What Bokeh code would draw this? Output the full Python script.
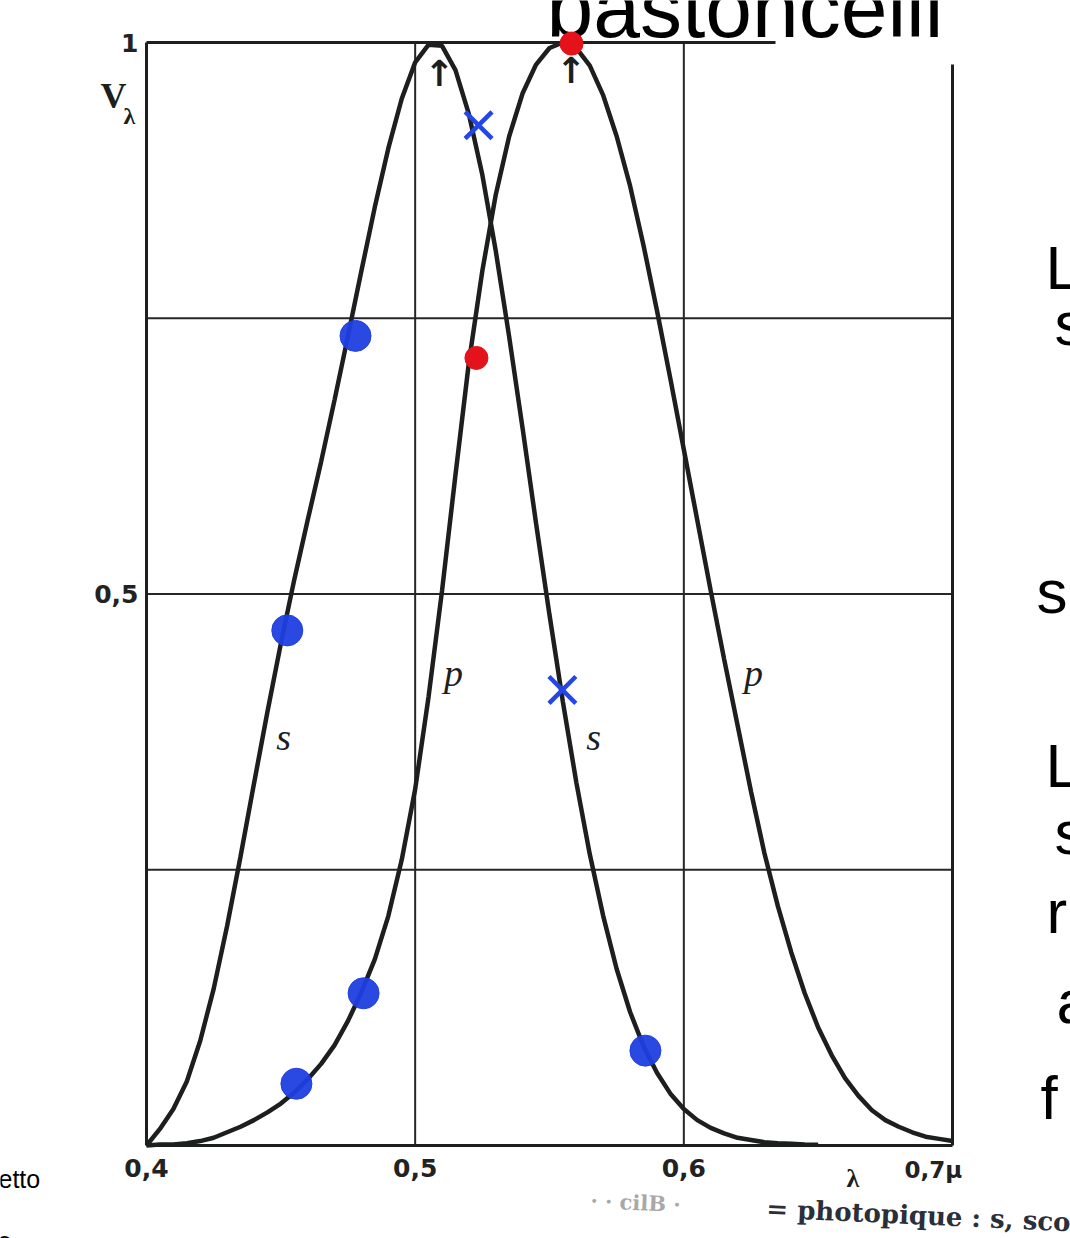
from bokeh.plotting import figure
from bokeh.models import Range1d
from bokeh.core.properties import value
from bokeh.embed import file_html
from bokeh.resources import INLINE

# ---- data (wavelength in micrometres, relative luminous efficiency) ----
scotopic_wl = [round(0.400 + 0.005 * i, 3) for i in range(51)]
scotopic_v = [0.000, 0.015, 0.033, 0.058, 0.095, 0.142, 0.199, 0.262, 0.328, 0.393,
              0.455, 0.513, 0.567, 0.620, 0.676, 0.734, 0.793, 0.851, 0.904, 0.949,
              0.982, 0.998, 0.997, 0.975, 0.935, 0.880, 0.811, 0.733, 0.650, 0.564,
              0.481, 0.402, 0.329, 0.264, 0.208, 0.160, 0.121, 0.090, 0.066, 0.047,
              0.033, 0.023, 0.016, 0.011, 0.007, 0.005, 0.003, 0.002, 0.0015, 0.001,
              0.0007]

photopic_wl = [round(0.400 + 0.005 * i, 3) for i in range(61)]
photopic_v = [0.000, 0.001, 0.001, 0.002, 0.004, 0.007, 0.012, 0.017, 0.023, 0.030,
              0.038, 0.048, 0.060, 0.074, 0.091, 0.113, 0.139, 0.169, 0.208, 0.259,
              0.323, 0.407, 0.503, 0.608, 0.710, 0.793, 0.862, 0.915, 0.954, 0.980,
              0.995, 1.000, 0.995, 0.979, 0.952, 0.915, 0.870, 0.816, 0.757, 0.695,
              0.631, 0.567, 0.503, 0.441, 0.381, 0.321, 0.265, 0.217, 0.175, 0.138,
              0.107, 0.082, 0.061, 0.045, 0.032, 0.023, 0.017, 0.012, 0.008, 0.006,
              0.004]

blue_dot_wl = [0.4778, 0.4524, 0.4558, 0.4808, 0.5857]
blue_dot_v = [0.734, 0.467, 0.056, 0.138, 0.086]
blue_cross_wl = [0.5236, 0.5548]
blue_cross_v = [0.925, 0.413]
red_dot_wl = [0.5228, 0.5582]
red_dot_v = [0.714, 0.999]

peak_wl = [0.5090, 0.5580]
peak_v = [0.972, 0.975]

curve_label_wl = [0.4510, 0.5664, 0.5143, 0.6259]
curve_label_v = [0.370, 0.370, 0.428, 0.428]
curve_label_text = ["s", "s", "p", "p"]

x_min, x_max = 0.4, 0.7
y_min, y_max = 0.0, 1.0
x_grid = [0.5, 0.6]
y_grid = [0.25, 0.5, 0.75]
x_ticks = [0.4, 0.5, 0.6]
x_tick_labels = ["0,4", "0,5", "0,6"]
y_ticks = [0.5, 1.0]
y_tick_labels = ["0,5", "1"]

INK = "#1c1f1e"
W, H = 1070, 1238
# pixel box of the chart frame in the picture
BL, BR, BT, BB = 146, 952, 42, 1145


def X(px):
    return x_min + (px - BL) / (BR - BL) * (x_max - x_min)


def Y(py):
    return y_min + (BB - py) / (BB - BT) * (y_max - y_min)


p = figure(width=W, height=H, output_backend="svg", toolbar_location=None,
           x_range=Range1d(X(0), X(W)), y_range=Range1d(Y(H), Y(0)),
           x_axis_location=None, y_axis_location=None,
           min_border=0, min_border_left=0, min_border_right=0,
           min_border_top=0, min_border_bottom=0,
           background_fill_color="white", border_fill_color="white")
p.outline_line_color = None
p.center = []


def txt(px, py_mid, s, font="Liberation Sans", size=20, style="normal", color="black",
        align="left", angle=0.0):
    """py_mid: vertical middle of the text line, in picture pixels."""
    p.text([X(px)], [Y(py_mid)], text=[s], text_font=value(font), text_font_size=f"{size}px",
           text_font_style=style, text_color=color, text_align=align,
           text_baseline="middle", angle=angle)


# ruled grid and frame (the scanned frame fades out at the top-right corner)
p.segment(x0=x_grid, y0=[y_min] * len(x_grid), x1=x_grid, y1=[y_max] * len(x_grid),
          line_color="#262626", line_width=2)
p.segment(x0=[x_min] * len(y_grid), y0=y_grid, x1=[x_max] * len(y_grid), y1=y_grid,
          line_color="#262626", line_width=2)
p.segment(x0=[x_min, x_min, x_max, x_min], y0=[y_min, y_min, y_min, y_max],
          x1=[x_min, x_max, x_max, X(775)], y1=[y_max, y_min, Y(64), y_max],
          line_color=INK, line_width=3)

# tick labels
p.text(x_ticks, [Y(1158)] * len(x_ticks), text=x_tick_labels,
       text_font=value("DejaVu Sans"), text_font_style="bold", text_font_size="25px",
       text_align="center", text_baseline="top", text_color="#222222")
p.text([X(138)] * len(y_ticks), y_ticks, text=y_tick_labels,
       text_font=value("DejaVu Sans"), text_font_style="bold", text_font_size="25px",
       text_align="right", text_baseline="middle", text_color="#222222")

# curves
p.line(scotopic_wl, scotopic_v, line_color=INK, line_width=4.5)
p.line(photopic_wl, photopic_v, line_color=INK, line_width=4.5)

# curve labels and peak arrows
p.text(curve_label_wl, curve_label_v, text=curve_label_text,
       text_font=value("Liberation Serif"), text_font_style="italic",
       text_font_size="38px", text_align="center", text_baseline="middle",
       text_color=INK)
p.text(peak_wl, peak_v, text=["\u2191", "\u2191"], text_font=value("DejaVu Sans"),
       text_font_style="bold", text_font_size="36px", text_align="center",
       text_baseline="middle", text_color=INK)

# hand-drawn marks
p.scatter(blue_dot_wl, blue_dot_v, marker="circle", size=31,
          fill_color="#1f3fe0", line_color="#1f3fe0", fill_alpha=0.95)
p.scatter(blue_cross_wl, blue_cross_v, marker="x", size=38,
          line_color="#2446e6", line_width=4.5)

# axis names
txt(100, 95, "V", font="Liberation Serif", size=36, style="bold", color=INK)
txt(123, 115, "\u03bb", font="Liberation Serif", size=24, style="bold", color=INK)
txt(846, 1178, "\u03bb", font="Liberation Serif", size=26, style="bold", color=INK)
txt(904, 1169, "0,7\u03bc", font="DejaVu Sans", size=23, style="bold", color="#222222")

# slide text overlaid on the scan
txt(546, 7, "bastoncelli", size=84)
side = [("L", 1045, 290), ("s", 1054, 346), ("sp", 1036, 614), ("L", 1045, 788),
        ("s", 1054, 855), ("ri", 1046, 934), ("a", 1056, 1024), ("f", 1040, 1120)]
for t, px, base in side:
    txt(px, base - 23, t, size=62)

txt(-2, 1178, "etto", size=25)
txt(-3, 1240, "o", size=25)

txt(590, 1200, "\u00b7  \u00b7   cilB  \u00b7", font="DejaVu Serif", size=21, style="bold",
    color="#a8a8a8", angle=-0.045)
txt(766, 1208, "= photopique : s, sco", font="DejaVu Serif", size=26, style="bold",
    color="#2a2f3a", angle=-0.045)

# red marks drawn last, over the slide title as in the picture
p.scatter(red_dot_wl, red_dot_v, marker="circle", size=23,
          fill_color="#e3121b", line_color="#e3121b")

open("out.html", "w").write(file_html(p, INLINE))
